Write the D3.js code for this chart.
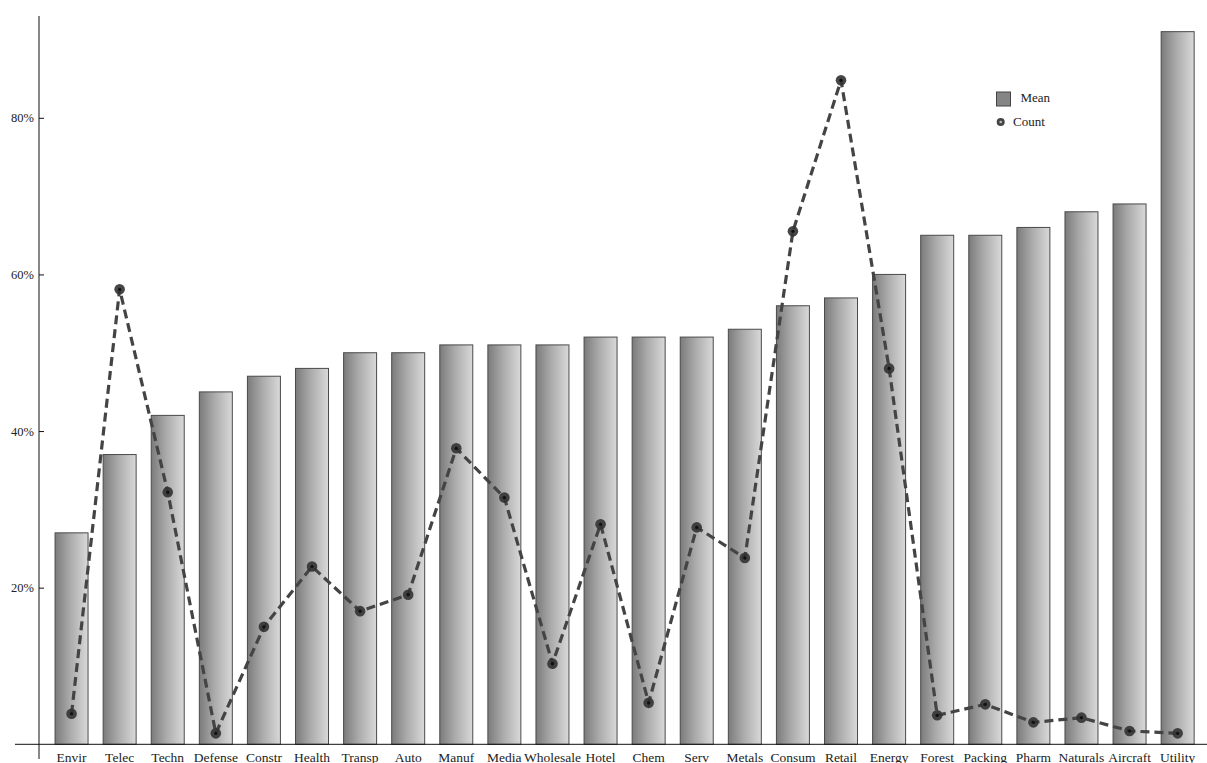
<!DOCTYPE html>
<html>
<head>
<meta charset="utf-8">
<script src="https://cdn.jsdelivr.net/npm/d3@7"></script>
<style>
  html, body { margin: 0; padding: 0; background: #fff; }
  svg { display: block; }
  text { font-family: "Liberation Serif", "DejaVu Serif", serif; fill: #222; }
</style>
</head>
<body>
<svg id="chart" width="1207" height="763"></svg>
<script>
const categories = ["Envir","Telec","Techn","Defense","Constr","Health","Transp","Auto","Manuf","Media","Wholesale","Hotel","Chem","Serv","Metals","Consum","Retail","Energy","Forest","Packing","Pharm","Naturals","Aircraft","Utility"];
const meanValues = [27,37,42,45,47,48,50,50,51,51,51,52,52,52,53,56,57,60,65,65,66,68,69,91];
const countValues = [3.9,58.1,32.2,1.4,15.0,22.7,17.0,19.1,37.8,31.5,10.3,28.1,5.3,27.7,23.8,65.5,84.8,48.0,3.7,5.1,2.8,3.4,1.7,1.4];
const yTicks = [20,40,60,80];
const legendLabels = ["Mean","Count"];

const svg = d3.select("#chart");
const defs = svg.append("defs");
const grad = defs.append("linearGradient").attr("id","barGrad")
  .attr("x1","0%").attr("x2","100%").attr("y1","0%").attr("y2","0%");
grad.append("stop").attr("offset","0%").attr("stop-color","#7b7b7b");
grad.append("stop").attr("offset","45%").attr("stop-color","#aaaaaa");
grad.append("stop").attr("offset","100%").attr("stop-color","#d9d9d9");

const x = d3.scaleBand().domain(categories).range([47.5, 1201.7])
  .paddingInner(0.314).paddingOuter(0.157);
const y = d3.scaleLinear().domain([0, 93]).range([744.3, 16]);

// bars
svg.append("g").selectAll("rect").data(categories).join("rect")
  .attr("x", d => x(d))
  .attr("y", (d,i) => y(meanValues[i]))
  .attr("width", x.bandwidth())
  .attr("height", (d,i) => y(0) - y(meanValues[i]))
  .attr("fill", "url(#barGrad)")
  .attr("stroke", "#4a4a4a")
  .attr("stroke-width", 1);

// x axis line
svg.append("line").attr("x1", 15).attr("x2", 1207)
  .attr("y1", y(0)).attr("y2", y(0))
  .attr("stroke", "#111").attr("stroke-width", 1);

// x labels
svg.append("g").selectAll("text").data(categories).join("text")
  .attr("x", d => x(d) + x.bandwidth()/2)
  .attr("y", 762)
  .attr("text-anchor", "middle")
  .attr("font-size", 13.5)
  .text(d => d);

// y axis
const yAxis = d3.axisRight(y).tickValues(yTicks).tickSize(5).tickFormat(d => d + "%");
const gy = svg.append("g").attr("transform", "translate(39,0)").call(yAxis);
gy.select(".domain").remove();
gy.selectAll(".tick line").attr("stroke", "#111");
gy.selectAll(".tick text").attr("x", -5).attr("text-anchor", "end")
  .attr("font-size", 12.5).attr("fill", "#333");
svg.append("line").attr("x1", 39).attr("x2", 39).attr("y1", 16).attr("y2", 759)
  .attr("stroke", "#111").attr("stroke-width", 1);

// count line
const cx = (d,i) => x(categories[i]) + x.bandwidth()/2;
const line = d3.line().x((d,i) => cx(d,i)).y(d => y(d));
svg.append("path").datum(countValues)
  .attr("d", line)
  .attr("fill", "none")
  .attr("stroke", "#444")
  .attr("stroke-width", 3.2)
  .attr("stroke-dasharray", "9,5");

const dots = svg.append("g").selectAll("g").data(countValues).join("g")
  .attr("transform", (d,i) => `translate(${cx(d,i)},${y(d)})`);
dots.append("circle").attr("r", 5.3).attr("fill", "#333").attr("fill-opacity", 0.9);
dots.append("circle").attr("r", 1.6).attr("fill", "#111");

// legend
const lg = svg.append("g");
lg.append("rect").attr("x", 996.5).attr("y", 92).attr("width", 14).attr("height", 14)
  .attr("fill", "#858585").attr("stroke", "#444").attr("stroke-width", 1);
lg.append("text").attr("x", 1020.5).attr("y", 101.5).attr("font-size", 13).text(legendLabels[0]);
lg.append("circle").attr("cx", 1000.7).attr("cy", 122).attr("r", 4).attr("fill", "#444");
lg.append("circle").attr("cx", 1000.7).attr("cy", 122).attr("r", 1.3).attr("fill", "#bbb");
lg.append("text").attr("x", 1013).attr("y", 125.5).attr("font-size", 13).text(legendLabels[1]);
</script>
</body>
</html>
